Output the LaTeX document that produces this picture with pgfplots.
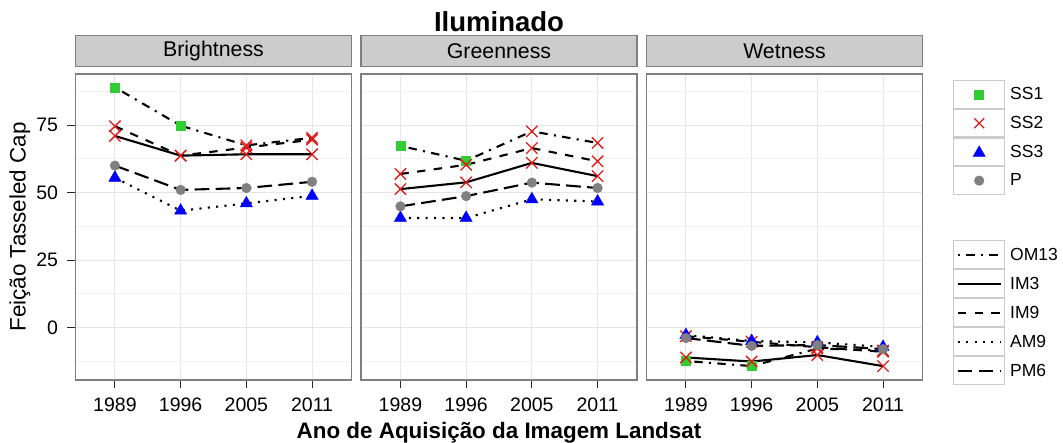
\documentclass[border=0pt]{standalone}
\usepackage{pgfplots}
\pgfplotsset{compat=1.18}
\usepackage{pgfplotstable}
\usepackage{fontspec}
\setmainfont{Liberation Sans}

\definecolor{ssgreen}{RGB}{50,205,50}
\definecolor{ssred}{RGB}{225,25,25}
\definecolor{ssblue}{RGB}{0,0,255}
\definecolor{ssgray}{RGB}{128,128,128}
\definecolor{grey50}{RGB}{127,127,127}
\definecolor{grey80}{RGB}{204,204,204}
\definecolor{grey90}{RGB}{229,229,229}
\definecolor{grey95}{RGB}{242,242,242}
\definecolor{tickc}{RGB}{40,40,40}

% x: 1=1989, 2=1996, 3=2005, 4=2011 ; c* = symbol class of each point
\pgfplotstableread{
x OM13 cOM13 IM3 cIM3 IM9 cIM9 AM9 cAM9 PM6 cPM6
1 89.0 SS1 71.0 SS2 74.6 SS2 55.5 SS3 60.0 P
2 74.8 SS1 63.7 SS2 63.7 SS2 43.3 SS3 51.0 P
3 67.5 SS2 64.2 SS2 66.7 SS2 46.0 SS3 51.7 P
4 70.3 SS2 64.2 SS2 69.6 SS2 48.8 SS3 54.0 P
}\bright
\pgfplotstableread{
x OM13 cOM13 IM3 cIM3 IM9 cIM9 AM9 cAM9 PM6 cPM6
1 67.3 SS1 51.3 SS2 56.9 SS2 40.6 SS3 44.9 P
2 61.8 SS1 53.8 SS2 60.3 SS2 40.6 SS3 48.7 P
3 72.7 SS2 61.0 SS2 66.5 SS2 47.5 SS3 53.7 P
4 68.4 SS2 56.1 SS2 61.6 SS2 46.7 SS3 51.7 P
}\green
\pgfplotstableread{
x OM13 cOM13 IM3 cIM3 IM9 cIM9 AM9 cAM9 PM6 cPM6
1 -12.4 SS1 -11.1 SS2 -3.2 SS2 -2.8 SS3 -3.9 P
2 -14.3 SS1 -12.6 SS2 -5.3 SS2 -5.0 SS3 -6.8 P
3 -7.8 SS2 -10.2 SS2 -7.3 SS2 -5.5 SS3 -6.5 P
4 -8.5 SS2 -14.3 SS2 -9.0 SS2 -7.2 SS3 -8.0 P
}\wet

\tikzset{
  lw/.style={line width=2.1pt, line cap=butt, black},
  lOM/.style={lw, dash pattern=on 2.1pt off 6.3pt on 8.4pt off 6.3pt},
  lIM3/.style={lw, solid},
  lIM9/.style={lw, dash pattern=on 8.4pt off 8.4pt},
  lAM/.style={lw, dash pattern=on 2.1pt off 6.3pt},
  lPM/.style={lw, dash pattern=on 14.7pt off 6.3pt},
  keybox/.style={grey80, line width=1.1pt, fill=white},
}
\pgfplotsset{
  shp/.style={scatter, only marks, point meta=explicit symbolic,
    scatter/classes={
      SS1={mark=square*, mark size=4.5pt, draw=ssgreen, fill=ssgreen, line width=0.5pt},
      SS2={mark=x, mark size=8pt, draw=ssred, line width=1.3pt},
      SS3={mark=triangle*, mark size=7pt, draw=ssblue, fill=ssblue, line width=0.5pt},
      P={mark=*, mark size=4.8pt, draw=ssgray, fill=ssgray, line width=0.5pt}}},
  panel/.style={
    scale only axis, width=276pt, height=306pt, anchor=south west,
    xmin=0.4, xmax=4.6, ymin=-19.45, ymax=93.95,
    xtick={1,2,3,4}, xticklabels={1989,1996,2005,2011},
    ytick={0,25,50,75}, minor ytick={-12.5,12.5,37.5,62.5,87.5},
    xmajorgrids, ymajorgrids, yminorgrids,
    major grid style={grey90, line width=1.1pt},
    minor grid style={grey95, line width=0.9pt},
    axis line style={grey50, line width=1.1pt},
    tick align=outside, major tick length=8pt, minor tick length=0pt,
    tick style={tickc, line width=1.1pt},
    tick pos=left,
    ticklabel style={font=\fontsize{19.5}{20}\selectfont, text=black},
    /pgf/number format/assume math mode=true,
    xticklabel style={yshift=-6pt},
    yticklabel style={xshift=-6pt},
    title style={at={(0.5,1)}, anchor=south, fill=grey80, draw=grey50, line width=1.1pt,
      minimum width=276pt, minimum height=31.4pt, inner sep=0pt, yshift=0.55pt,
      font=\fontsize{21.3}{22}\selectfont},
  },
  inner/.style={ytick style={draw=none}, yticklabels={}},
}

\begin{document}
\begin{tikzpicture}
\useasboundingbox (0,0) rectangle (1063pt,442pt);

% ---------- Brightness ----------
\begin{axis}[panel, at={(75.5pt,62pt)}, title={Brightness},
  ylabel={Feição Tasseled Cap},
  ylabel style={at={(axis description cs:-0.2011,0.5)}, anchor=center,
    font=\fontsize{22.4}{24}\selectfont}]
\addplot[lOM] table[x=x,y=OM13]{\bright};
\addplot[lIM3] table[x=x,y=IM3]{\bright};
\addplot[lIM9] table[x=x,y=IM9]{\bright};
\addplot[lAM] table[x=x,y=AM9]{\bright};
\addplot[lPM] table[x=x,y=PM6]{\bright};
\addplot[shp] table[x=x,y=OM13,meta=cOM13]{\bright};
\addplot[shp] table[x=x,y=IM3,meta=cIM3]{\bright};
\addplot[shp] table[x=x,y=IM9,meta=cIM9]{\bright};
\addplot[shp] table[x=x,y=AM9,meta=cAM9]{\bright};
\addplot[shp] table[x=x,y=PM6,meta=cPM6]{\bright};
\end{axis}

% ---------- Greenness ----------
\begin{axis}[panel, inner, at={(361pt,62pt)}, title={Greenness},
  xlabel={Ano de Aquisição da Imagem Landsat},
  xlabel style={at={(axis description cs:0.5,-0.1928)}, anchor=base,
    font=\bfseries\fontsize{22.4}{24}\selectfont}]
\addplot[lOM] table[x=x,y=OM13]{\green};
\addplot[lIM3] table[x=x,y=IM3]{\green};
\addplot[lIM9] table[x=x,y=IM9]{\green};
\addplot[lAM] table[x=x,y=AM9]{\green};
\addplot[lPM] table[x=x,y=PM6]{\green};
\addplot[shp] table[x=x,y=OM13,meta=cOM13]{\green};
\addplot[shp] table[x=x,y=IM3,meta=cIM3]{\green};
\addplot[shp] table[x=x,y=IM9,meta=cIM9]{\green};
\addplot[shp] table[x=x,y=AM9,meta=cAM9]{\green};
\addplot[shp] table[x=x,y=PM6,meta=cPM6]{\green};
\end{axis}

% ---------- Wetness ----------
\begin{axis}[panel, inner, at={(646.5pt,62pt)}, title={Wetness}]
\addplot[lOM] table[x=x,y=OM13]{\wet};
\addplot[lIM3] table[x=x,y=IM3]{\wet};
\addplot[lIM9] table[x=x,y=IM9]{\wet};
\addplot[lAM] table[x=x,y=AM9]{\wet};
\addplot[lPM] table[x=x,y=PM6]{\wet};
\addplot[shp] table[x=x,y=OM13,meta=cOM13]{\wet};
\addplot[shp] table[x=x,y=IM3,meta=cIM3]{\wet};
\addplot[shp] table[x=x,y=IM9,meta=cIM9]{\wet};
\addplot[shp] table[x=x,y=AM9,meta=cAM9]{\wet};
\addplot[shp] table[x=x,y=PM6,meta=cPM6]{\wet};
\end{axis}

% ---------- Title ----------
\node[anchor=base, font=\bfseries\fontsize{27.5}{30}\selectfont] at (499pt,410pt) {Iluminado};

% ---------- Legend: symbols ----------
\begin{axis}[scale only axis, width=276pt, height=306pt, anchor=south west,
  at={(646.5pt,62pt)}, hide axis, xmin=0, xmax=1, ymin=0, ymax=1,
  legend style={at={(axis description cs:1.1105,0.9804)}, anchor=north west,
    draw=none, fill=none, inner sep=0pt, row sep=0pt, column sep=5pt,
    nodes={inner sep=0pt}, font=\fontsize{17.5}{18}\selectfont},
  legend cell align=left]
\addlegendimage{legend image code/.code={
  \draw[keybox] (0pt,-13.8pt) rectangle (50.9pt,13.8pt);
  \draw[ssgreen, fill=ssgreen, line width=0.5pt] plot[mark=square*, mark size=4.5pt] coordinates {(25.45pt,0pt)};}}
\addlegendentry{SS1}
\addlegendimage{legend image code/.code={
  \draw[keybox] (0pt,-13.8pt) rectangle (50.9pt,13.8pt);
  \draw[ssred, line width=1.3pt] plot[mark=x, mark size=7pt] coordinates {(25.45pt,0pt)};}}
\addlegendentry{SS2}
\addlegendimage{legend image code/.code={
  \draw[keybox] (0pt,-13.8pt) rectangle (50.9pt,13.8pt);
  \draw[ssblue, fill=ssblue, line width=0.5pt] plot[mark=triangle*, mark size=7pt] coordinates {(25.45pt,-1pt)};}}
\addlegendentry{SS3}
\addlegendimage{legend image code/.code={
  \draw[keybox] (0pt,-13.8pt) rectangle (50.9pt,13.8pt);
  \draw[ssgray, fill=ssgray, line width=0.5pt] plot[mark=*, mark size=4.8pt] coordinates {(25.45pt,0pt)};}}
\addlegendentry{P}
\end{axis}

% ---------- Legend: line types ----------
\begin{axis}[scale only axis, width=276pt, height=306pt, anchor=south west,
  at={(646.5pt,62pt)}, hide axis, xmin=0, xmax=1, ymin=0, ymax=1,
  legend style={at={(axis description cs:1.1105,0.4575)}, anchor=north west,
    draw=none, fill=none, inner sep=0pt, row sep=0pt, column sep=5pt,
    nodes={inner sep=0pt}, font=\fontsize{17.5}{18}\selectfont},
  legend cell align=left]
\addlegendimage{legend image code/.code={
  \draw[keybox] (0pt,-13.95pt) rectangle (50.9pt,13.95pt);
  \draw[lOM] (4pt,0pt) -- (47pt,0pt);}}
\addlegendentry{OM13}
\addlegendimage{legend image code/.code={
  \draw[keybox] (0pt,-13.95pt) rectangle (50.9pt,13.95pt);
  \draw[lIM3] (4pt,0pt) -- (47pt,0pt);}}
\addlegendentry{IM3}
\addlegendimage{legend image code/.code={
  \draw[keybox] (0pt,-13.95pt) rectangle (50.9pt,13.95pt);
  \draw[lIM9] (4pt,0pt) -- (47pt,0pt);}}
\addlegendentry{IM9}
\addlegendimage{legend image code/.code={
  \draw[keybox] (0pt,-13.95pt) rectangle (50.9pt,13.95pt);
  \draw[lAM] (4pt,0pt) -- (47pt,0pt);}}
\addlegendentry{AM9}
\addlegendimage{legend image code/.code={
  \draw[keybox] (0pt,-13.95pt) rectangle (50.9pt,13.95pt);
  \draw[lPM] (4pt,0pt) -- (47pt,0pt);}}
\addlegendentry{PM6}
\end{axis}
\end{tikzpicture}
\end{document}
